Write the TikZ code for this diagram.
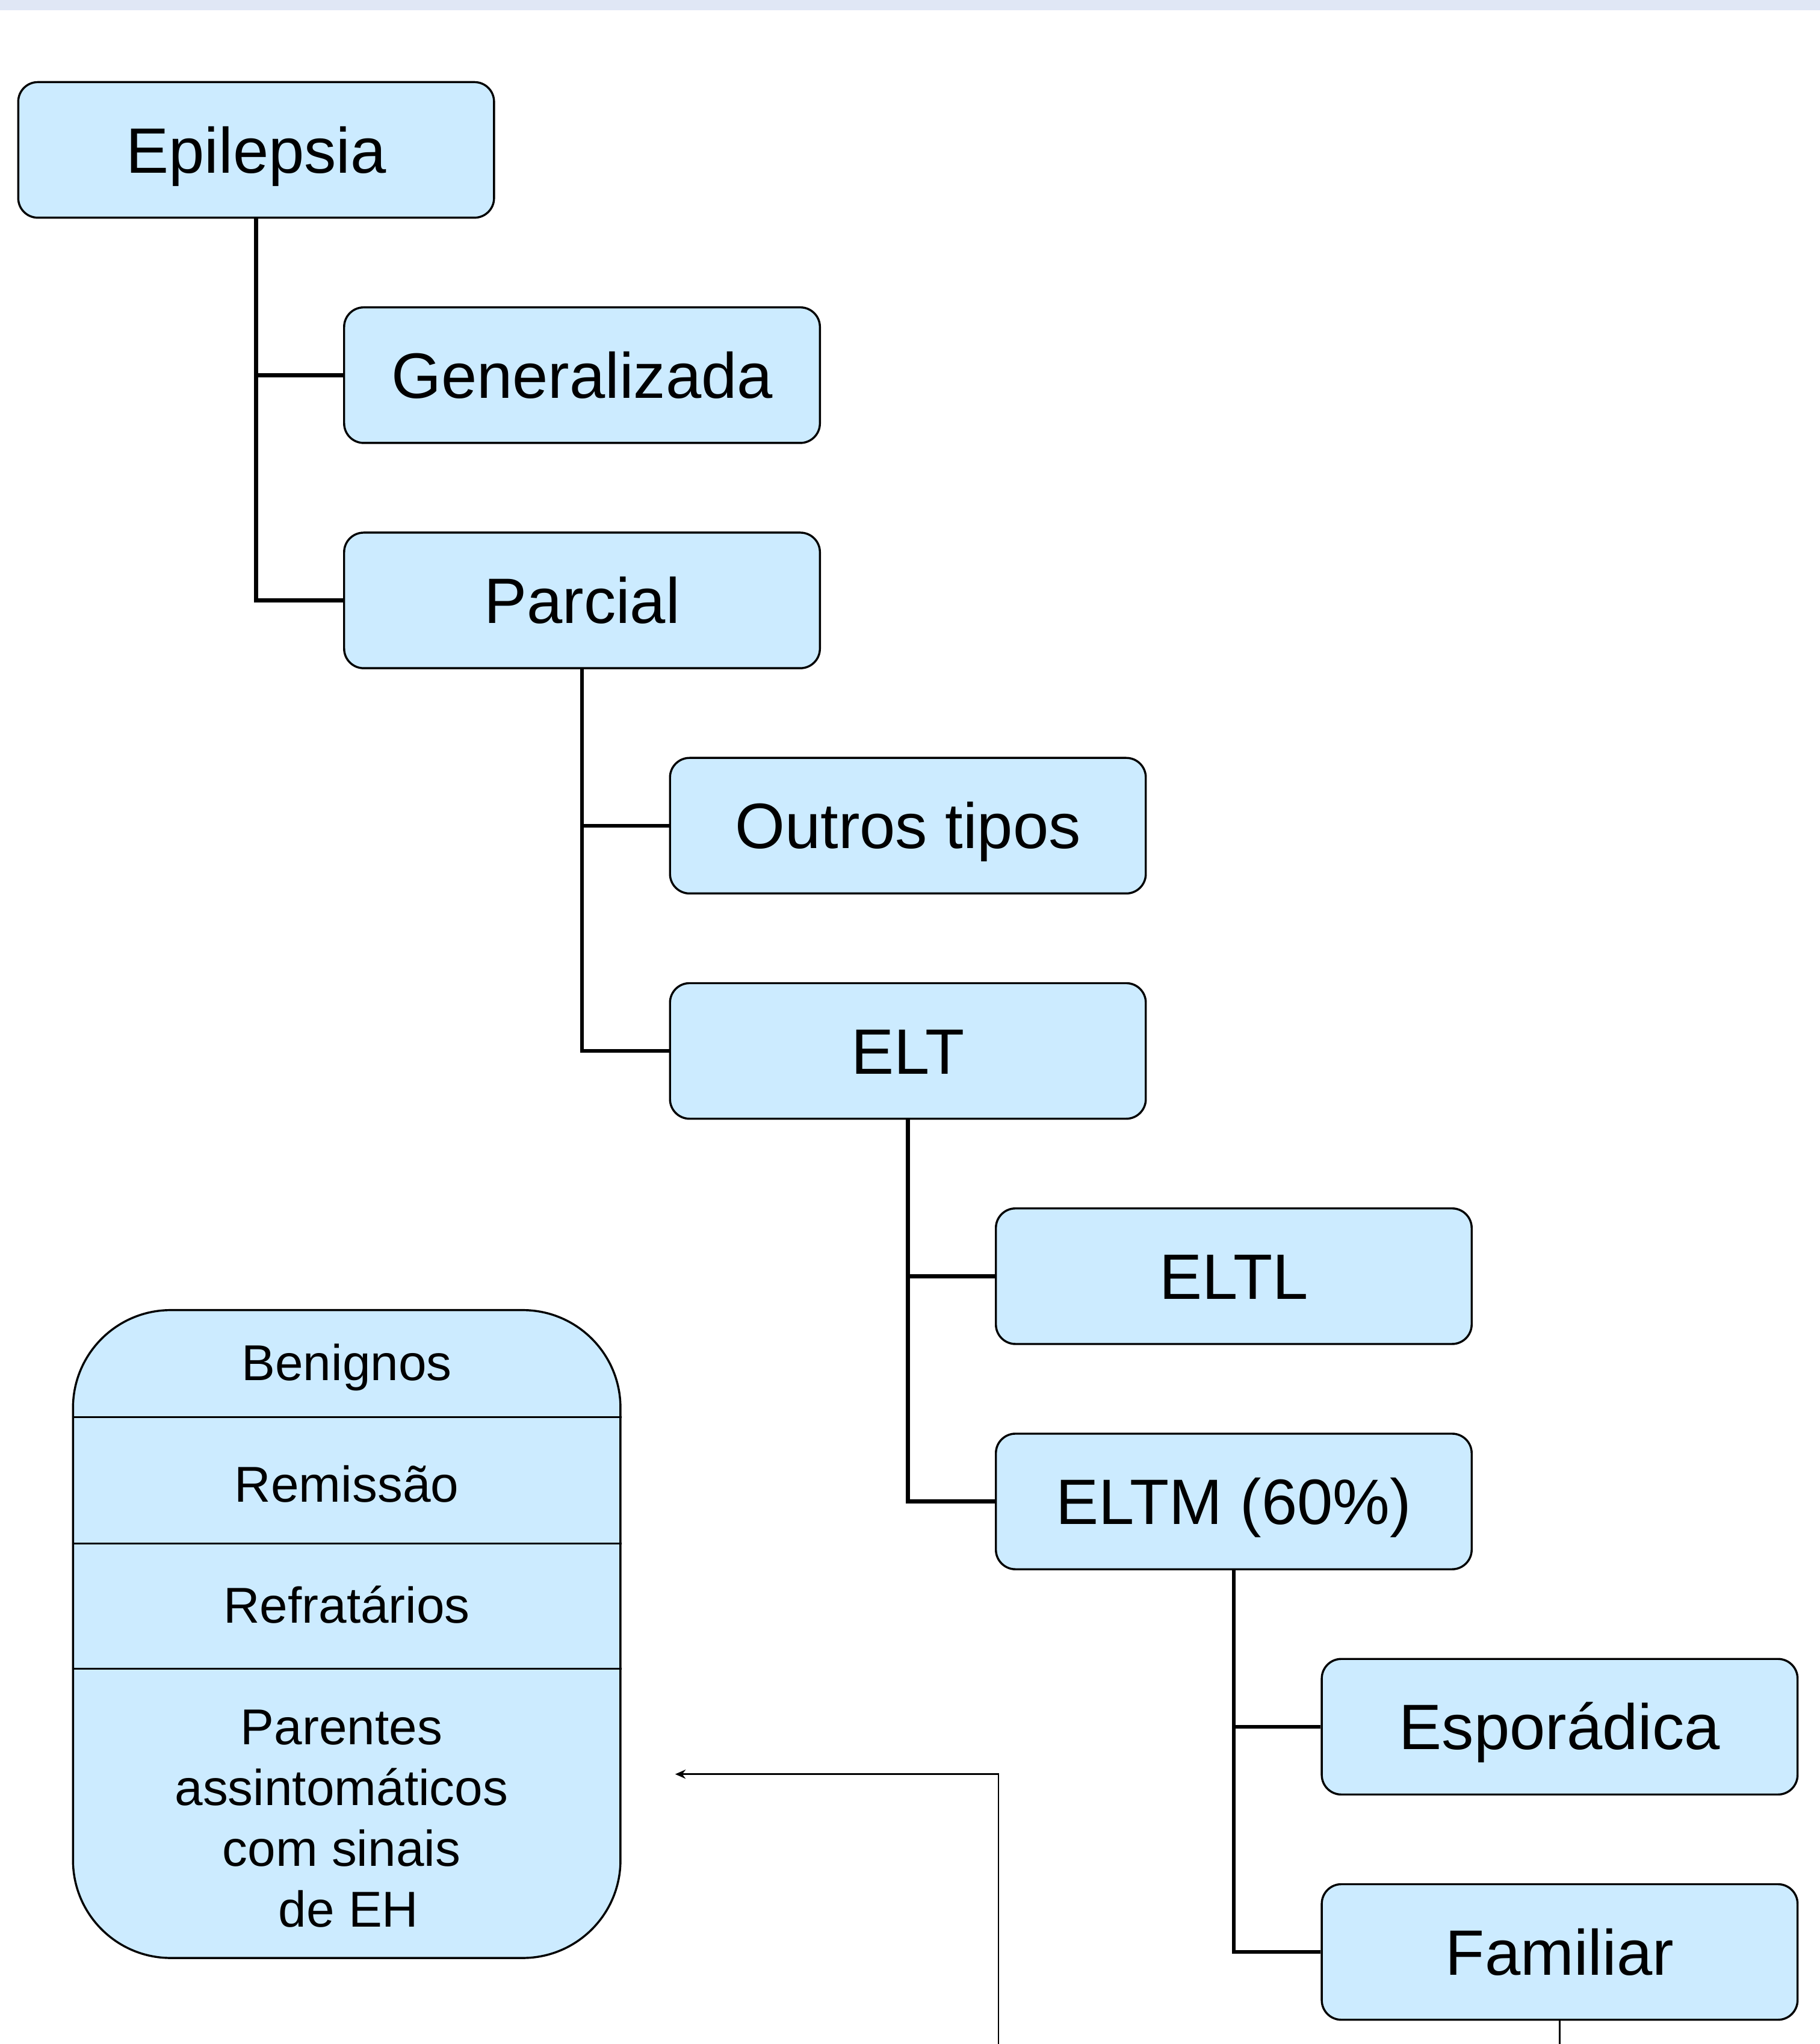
\documentclass[tikz,border=0pt]{standalone}
\usepackage{fontspec}
\setmainfont{Liberation Sans}
\usetikzlibrary{positioning}
\usetikzlibrary{arrows.meta}
\definecolor{boxblue}{HTML}{CCEBFF}
\definecolor{bandblue}{HTML}{E0E7F5}

\begin{document}
\begin{tikzpicture}[
    box/.style={draw, line width=0.9pt, fill=boxblue, rounded corners=0.3cm,
      minimum width=7.3cm, minimum height=2.08cm, inner sep=0pt,
      text height=20pt, text depth=0pt,
      font=\fontsize{28}{34}\selectfont},
    group/.style={draw, line width=0.9pt, fill=boxblue, rounded corners=1.5cm,
      minimum width=8.4cm, minimum height=9.94cm},
    item/.style={align=center, inner sep=0pt, text depth=0pt,
      font=\fontsize{22}{26.5}\selectfont},
    link/.style={line width=1.7pt},
    fine/.style={line width=0.7pt},
    node distance=3.456cm and 5cm, on grid
  ]
    \useasboundingbox (0,0) rectangle (27.92,-31.36);
    \fill[bandblue] (0,0) rectangle (27.92,-0.16);

    \node[box] (epi) at (3.93,-2.30) {Epilepsia};
    \node[box, below right=of epi] (gen) {Generalizada};
    \node[box, below=of gen] (par) {Parcial};
    \node[box, below right=of par] (out) {Outros tipos};
    \node[box, below=of out] (elt) {ELT};
    \node[box, below right=of elt] (eltl) {ELTL};
    \node[box, below=of eltl] (eltm) {ELTM (60\%)};
    \node[box, below right=of eltm] (esp) {Esporádica};
    \node[box, below=of esp] (fam) {Familiar};

    \draw[link] (epi.south) |- (gen.west);
    \draw[link] (epi.south) |- (par.west);
    \draw[link] (par.south) |- (out.west);
    \draw[link] (par.south) |- (elt.west);
    \draw[link] (elt.south) |- (eltl.west);
    \draw[link] (elt.south) |- (eltm.west);
    \draw[link] (eltm.south) |- (esp.west);
    \draw[link] (eltm.south) |- (fam.west);

    \node[group] (grp) at (5.32,-25.07) {};
    \foreach \d in {1.66,3.60,5.52}
      \draw[fine] ([yshift=-\d cm]grp.north west) -- ([yshift=-\d cm]grp.north east);
    \node[item] (ben) at (5.32,-20.90) {Benignos};
    \node[item] (rem) at (5.32,-22.76) {Remissão};
    \node[item] (ref) at (5.32,-24.62) {Refratários};
    \node[item] (par2) at (5.24,-27.90) {Parentes\\assintomáticos\\com sinais\\\ de EH};

    \coordinate (foot) at (15.32,-31.36);
    \coordinate (tip) at (10.36,-27.22);
    \draw[fine, -{Stealth[length=1.6mm, width=1.4mm]}] (foot) |- (tip);
    \draw[fine] (fam.south) -- (fam.south |- foot);
\end{tikzpicture}
\end{document}
